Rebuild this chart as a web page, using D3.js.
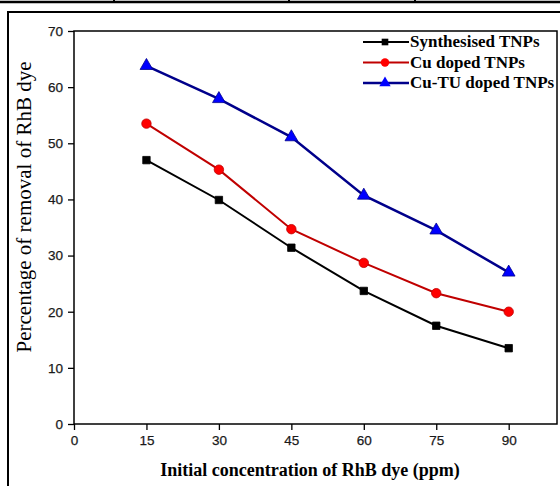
<!DOCTYPE html>
<html lang="en">
<head>
    <meta charset="UTF-8">
    <title>RhB dye removal</title>
    <script src="https://d3js.org/d3.v7.min.js"></script>
    <style>
        body { margin: 0; background: #fff; }
        svg { display: block; }
    </style>
</head>
<body>
<svg width="560" height="486"></svg>
<script>
    // data
    const concentrations = [15, 30, 45, 60, 75, 90];
    const synthesised = [47.0, 39.9, 31.4, 23.7, 17.5, 13.5];
    const cuDoped = [53.5, 45.3, 34.7, 28.7, 23.3, 20.0];
    const cuTuDoped = [63.8, 57.9, 51.1, 40.7, 34.5, 27.0];
    const seriesNames = ["Synthesised TNPs", "Cu doped TNPs", "Cu-TU doped TNPs"];
    const xTicks = [0, 15, 30, 45, 60, 75, 90];
    const yTicks = [0, 10, 20, 30, 40, 50, 60, 70];

    const svg = d3.select("svg");
    const plotLeft = 74, plotRight = 557, plotTop = 31, plotBottom = 424;

    const x = d3.scaleLinear().domain([0, 100]).range([plotLeft, plotRight]);
    const y = d3.scaleLinear().domain([0, 70]).range([plotBottom, plotTop]);

    // table rule at the top of the page and the cell frame
    svg.append("line").attr("x1", 0).attr("x2", 560).attr("y1", 2).attr("y2", 2)
        .attr("stroke", "#000").attr("stroke-width", 2.5);
    [114, 289, 415].forEach(px => {
        svg.append("line").attr("x1", px).attr("x2", px).attr("y1", 0).attr("y2", 3)
            .attr("stroke", "#000").attr("stroke-width", 2);
    });
    svg.append("path").attr("d", "M8,486 V12 H560")
        .attr("fill", "none").attr("stroke", "#000").attr("stroke-width", 2);

    // plot box
    svg.append("rect").attr("x", plotLeft).attr("y", plotTop)
        .attr("width", plotRight - plotLeft).attr("height", plotBottom - plotTop)
        .attr("fill", "none").attr("stroke", "#000").attr("stroke-width", 1.5);

    const xAxis = svg.append("g").attr("transform", `translate(0,${plotBottom})`)
        .call(d3.axisBottom(x).tickValues(xTicks).tickSize(6).tickPadding(5));
    const yAxis = svg.append("g").attr("transform", `translate(${plotLeft},0)`)
        .call(d3.axisLeft(y).tickValues(yTicks).tickSize(6).tickPadding(5));

    [xAxis, yAxis].forEach(a => {
        a.select(".domain").remove();
        a.selectAll("line").attr("stroke", "#000").attr("stroke-width", 1.3);
        a.selectAll("text")
            .attr("font-family", "Liberation Sans, Arial, sans-serif")
            .attr("font-size", 13.5)
            .attr("fill", "#1a1a1a")
            .attr("stroke", "#1a1a1a")
            .attr("stroke-width", 0.25);
    });

    const series = [
        { name: seriesNames[0], values: synthesised, line: "#000", fill: "#000", shape: d3.symbolSquare, size: 55, width: 2 },
        { name: seriesNames[1], values: cuDoped, line: "#c00000", fill: "#f00", shape: d3.symbolCircle, size: 70, width: 2 },
        { name: seriesNames[2], values: cuTuDoped, line: "#00008b", fill: "#0000ff", shape: d3.symbolTriangle, size: 70, width: 2.5 }
    ];

    const line = d3.line()
        .x((d, i) => x(concentrations[i]))
        .y(d => y(d));

    series.forEach(s => {
        svg.append("path")
            .attr("d", line(s.values))
            .attr("fill", "none")
            .attr("stroke", s.line)
            .attr("stroke-width", s.width);

        svg.selectAll(null)
            .data(s.values)
            .enter()
            .append("path")
            .attr("d", d3.symbol().type(s.shape).size(s.size))
            .attr("transform", (d, i) => `translate(${x(concentrations[i])},${y(d)})`)
            .attr("fill", s.fill)
            .attr("stroke", s.line)
            .attr("stroke-width", 0.8);
    });

    // legend
    const legend = svg.append("g").attr("transform", "translate(363,42)");
    series.forEach((s, i) => {
        const g = legend.append("g").attr("transform", `translate(0,${i * 20.5})`);
        g.append("line").attr("x1", 0).attr("x2", 46).attr("y1", 0).attr("y2", 0)
            .attr("stroke", s.line).attr("stroke-width", s.width);
        g.append("path").attr("d", d3.symbol().type(s.shape).size(s.size * 0.8))
            .attr("transform", "translate(22,0)").attr("fill", s.fill);
        g.append("text").attr("x", 47).attr("y", 5)
            .attr("font-family", "Liberation Serif, Times New Roman, serif")
            .attr("font-weight", "bold")
            .attr("font-size", 17)
            .text(s.name);
    });

    // axis titles
    svg.append("text")
        .attr("x", 310)
        .attr("y", 476)
        .attr("text-anchor", "middle")
        .attr("font-family", "Liberation Serif, Times New Roman, serif")
        .attr("font-weight", "bold")
        .attr("font-size", 18)
        .text("Initial concentration of RhB dye (ppm)");

    svg.append("text")
        .attr("transform", "translate(31,207) rotate(-90)")
        .attr("text-anchor", "middle")
        .attr("font-family", "Liberation Serif, Times New Roman, serif")
        .attr("font-size", 21)
        .text("Percentage of removal of RhB dye");
</script>
</body>
</html>
